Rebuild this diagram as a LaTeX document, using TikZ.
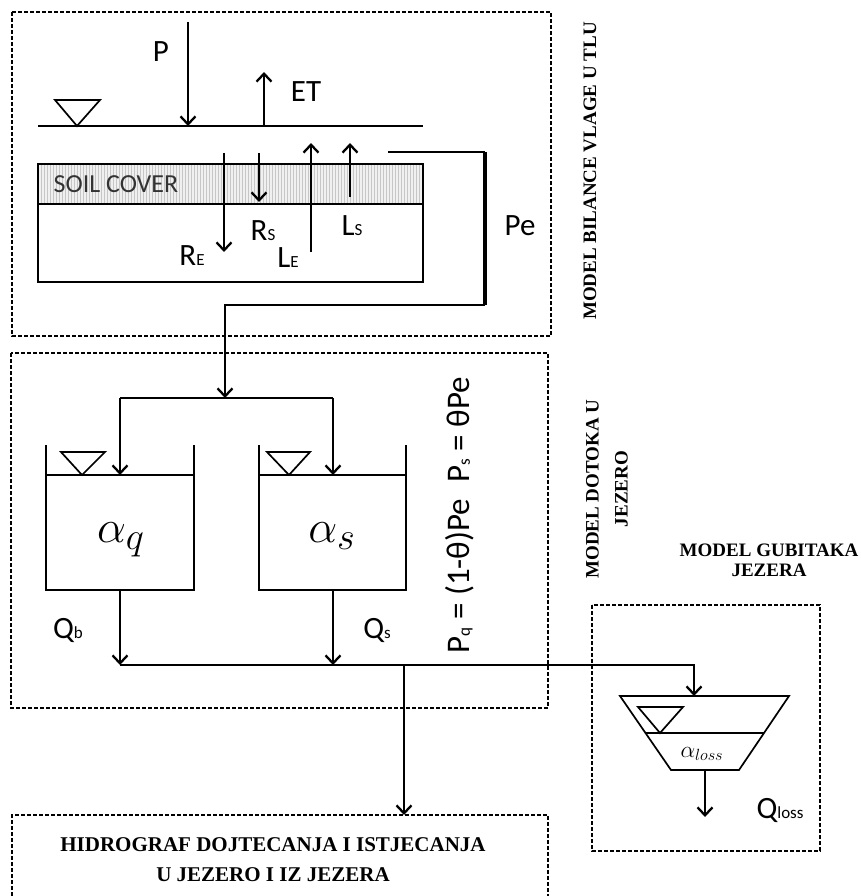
\documentclass[tikz,border=0pt]{standalone}
\usepackage{fontspec}
\setmainfont{Liberation Serif}
\setsansfont{Carlito}
\usetikzlibrary{arrows.meta}
\newcommand{\lsub}[2]{#1{\fontsize{17}{17}\selectfont #2}}

\begin{document}
\begin{tikzpicture}[x=1pt, y=-1pt,
    every node/.style={font=\sffamily\fontsize{31}{33}\selectfont, inner sep=0pt},
    zone/.style={draw, line width=1.2pt, dash pattern=on 4pt off 2pt},
    flow/.style={line width=2.3pt, -{Straight Barb[length=8pt,width=15pt]}},
    wall/.style={line width=1.7pt},
    title/.style={font=\rmfamily\bfseries\fontsize{19}{20}\selectfont, align=center},
    big/.style={font=\Huge, scale=1.85},
  ]
  \useasboundingbox (0,0) rectangle (861,896);

  % model zones
  \draw[zone] (12,12) rectangle (551,336);
  \draw[zone] (11,353) rectangle (548,708);
  \draw[zone] (592,605) rectangle (820,851);
  \draw[zone] (12,896) -- (12,815) -- (548,815) -- (548,896);

  % ground surface
  \draw[line width=2.2pt] (38,126) -- (423,126);
  \draw[wall] (55,100) -- (100,100) -- (77,126) -- cycle;
  \coordinate (pTop) at (188,22);
  \coordinate (pEnd) at (188,126);
  \draw[flow] (pTop) -- (pEnd);
  \node (p) at (161,52) {P};
  \coordinate (etBase) at (264,126);
  \coordinate (etTop) at (264,72);
  \draw[flow] (etBase) -- (etTop);
  \node (et) at (306,92) {ET};

  % soil column
  \fill[gray!12] (38,164) rectangle (423,204);
  \foreach \x in {41,44,...,421}
    \draw[gray!45, line width=0.4pt] (\x,164) -- (\x,204);
  \draw[wall] (38,164) rectangle (423,282);
  \draw[wall] (38,204) -- (423,204);
  \node[text=black!80, font=\sffamily\fontsize{26}{28}\selectfont] (soil) at (116,184) {SOIL COVER};

  \draw[flow] (224,153) -- (224,252);
  \draw[flow] (259,153) -- (259,202);
  \draw[flow] (311,252) -- (311,143);
  \draw[flow] (350,197) -- (350,143);
  \node (re) at (192,256) {\lsub{R}{E}};
  \node (rs) at (263,231) {\lsub{R}{S}};
  \node (le) at (288,258) {\lsub{L}{E}};
  \node (ls) at (352,226) {\lsub{L}{S}};

  % effective precipitation
  \coordinate (peStart) at (388,152);
  \coordinate (peCorner) at (485,152);
  \coordinate (peLow) at (485,305);
  \coordinate (peTurn) at (225,305);
  \coordinate (split) at (225,398);
  \draw[line width=2.3pt] (peStart) -- (peCorner);
  \draw[line width=4pt] (peCorner) -- (peLow);
  \draw[flow] (peLow) -- (peTurn) -- (split);
  \node (pe) at (520,226) {Pe};

  % inflow split
  \coordinate (inQ) at (120,475);
  \coordinate (inS) at (333,475);
  \draw[line width=2.3pt] (120,398) -- (333,398);
  \draw[flow] (120,398) -- (inQ);
  \draw[flow] (333,398) -- (inS);

  % reservoirs
  \draw[wall] (46,445) -- (46,590) -- (194,590) -- (194,445);
  \draw[wall] (46,475) -- (194,475);
  \draw[wall] (61,452) -- (105,452) -- (82,475) -- cycle;
  \node[big] (aq) at (121,540) {$\alpha_q$};
  \draw[wall] (259,445) -- (259,590) -- (406,590) -- (406,445);
  \draw[wall] (259,475) -- (406,475);
  \draw[wall] (267,452) -- (310,452) -- (289,475) -- cycle;
  \node[big] (as) at (332,536) {$\alpha_s$};
  \node[rotate=90, font=\sffamily\fontsize{33}{35}\selectfont] (share) at (460,515)
    {P{\fontsize{17}{17}\selectfont q} = (1-θ)Pe\enspace P{\fontsize{17}{17}\selectfont s} = θPe};

  % outflow
  \coordinate (collect) at (120,665);
  \coordinate (lakeIn) at (694,696);
  \coordinate (outlet) at (404,815);
  \draw[flow] (120,590) -- (collect);
  \draw[flow] (333,590) -- (333,665);
  \draw[flow] (collect) -- (694,665) -- (lakeIn);
  \draw[flow] (404,665) -- (outlet);
  \node (qb) at (68,630) {\lsub{Q}{b}};
  \node (qs) at (377,630) {\lsub{Q}{s}};

  % lake losses
  \draw[wall] (620,696) -- (789,696) -- (739,770) -- (671,770) -- cycle;
  \draw[line width=2.6pt] (645,733) -- (764,733);
  \draw[wall] (638,707) -- (683,707) -- (660,733) -- cycle;
  \node[font=\LARGE, scale=1.35] (aloss) at (702,754) {$\alpha_{loss}$};
  \draw[flow] (705,770) -- (705,817);
  \node (qloss) at (780,810) {\lsub{Q}{loss}};

  % titles
  \node[title, rotate=90] (t1) at (590,171) {MODEL BILANCE VLAGE U TLU};
  \node[title, rotate=90, font=\rmfamily\bfseries\fontsize{19}{29}\selectfont] (t2) at (607,489) {MODEL DOTOKA U\\JEZERO};
  \node[title] (t3) at (769,560) {MODEL GUBITAKA\\JEZERA};
  \node[title, font=\rmfamily\bfseries\fontsize{21}{30}\selectfont] (t4) at (273,860)
    {HIDROGRAF DOJTECANJA I ISTJECANJA\\U JEZERO I IZ JEZERA};
\end{tikzpicture}
\end{document}
